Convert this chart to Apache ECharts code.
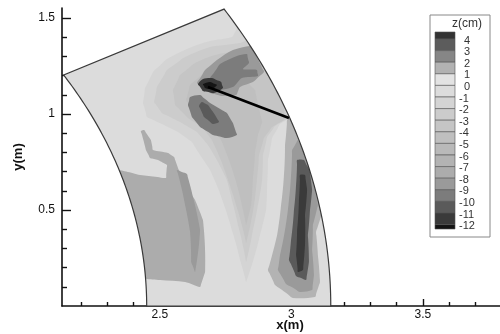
<!DOCTYPE html>
<html><head><meta charset="utf-8">
<script src="https://cdn.jsdelivr.net/npm/echarts@6/dist/echarts.min.js"></script>
<style>html,body{margin:0;padding:0;background:#fff}#c{width:500px;height:334px}</style>
</head><body><div id="c"></div>
<script>
// ---- axes ----
const xMajor = [2.5, 3, 3.5];
const xMinor = [2.2, 2.3, 2.4, 2.6, 2.7, 2.8, 2.9, 3.1, 3.2, 3.3, 3.4, 3.6, 3.7, 3.8];
const yMajor = [0.5, 1, 1.5];
const yMinor = [0.1, 0.2, 0.3, 0.4, 0.6, 0.7, 0.8, 0.9, 1.1, 1.2, 1.3, 1.4];
const xRange = [2.128, 3.862];
const yRange = [0, 1.552];

// ---- legend levels (cm) and band colours (band above 4 ... band below -12) ----
const levels = [4, 3, 2, 1, 0, -1, -2, -3, -4, -5, -6, -7, -8, -9, -10, -11, -12];
const bandColors = ['#333333', '#5c5c5c', '#868686', '#b2b2b2', '#e3e3e3', '#dcdcdc', '#d4d4d4', '#cccccc',
  '#c5c5c5', '#bfbfbf', '#b9b9b9', '#b3b3b3', '#acacac', '#9a9a9a', '#7c7c7c', '#5a5a5a', '#3a3a3a', '#141414'];

// ---- channel bend geometry (m, deg) ----
const channelInnerR = 2.45, channelOuterR = 3.15, channelAngle = 29.4;

// ---- spur dike ----
const dikeX = [2.683, 2.991];
const dikeY = [1.141, 0.979];

// ---- contour regions: z value (cm) and outline (x,y in m) ----
const plume1 = [[2.824,1.4635],[2.774,1.401],[2.691,1.380],[2.603,1.339],[2.527,1.286],[2.474,1.219],[2.444,1.135],[2.436,1.057],[2.451,0.984],[2.508,0.948],[2.569,0.906],[2.622,0.854],[2.653,0.786],[2.691,0.708],[2.721,0.615],[2.744,0.526],[2.774,0.396],[2.805,0.240],[2.828,0.125],[2.850,0.214],[2.881,0.370],[2.904,0.500],[2.908,0.630],[2.911,0.760],[2.927,0.875],[2.957,0.948],[3.003,0.984],[3.052,1.021],[3.033,1.177],[2.995,1.307],[2.919,1.4375]];
const plume2 = [[2.862,1.396],[2.805,1.370],[2.691,1.349],[2.596,1.297],[2.527,1.229],[2.489,1.141],[2.478,1.0625],[2.508,1.005],[2.577,0.958],[2.641,0.906],[2.683,0.839],[2.721,0.750],[2.755,0.656],[2.774,0.552],[2.797,0.422],[2.828,0.229],[2.854,0.396],[2.873,0.526],[2.889,0.656],[2.892,0.786],[2.908,0.880],[2.938,0.9375],[2.987,0.979],[3.052,1.047],[3.014,1.281],[2.938,1.385]];
const plume3 = [[2.889,1.375],[2.805,1.333],[2.710,1.307],[2.634,1.266],[2.577,1.203],[2.550,1.125],[2.558,1.047],[2.607,0.979],[2.664,0.927],[2.698,0.865],[2.729,0.771],[2.759,0.656],[2.790,0.526],[2.828,0.328],[2.858,0.526],[2.869,0.656],[2.877,0.786],[2.896,0.875],[2.927,0.932],[2.976,0.974],[3.033,1.073],[2.995,1.281]];
const plume4 = [[2.748,1.271],[2.672,1.219],[2.615,1.151],[2.600,1.073],[2.634,1.0],[2.691,0.9375],[2.733,0.865],[2.763,0.760],[2.790,0.646],[2.812,0.526],[2.828,0.422],[2.847,0.526],[2.854,0.667],[2.862,0.802],[2.873,0.891],[2.889,0.958],[2.873,1.047],[2.862,1.125],[2.824,1.177],[2.805,1.240]];
const innerBar = [[2.311,0.698],[2.425,0.682],[2.523,0.667],[2.527,0.734],[2.493,0.760],[2.463,0.771],[2.447,0.8125],[2.428,0.911],[2.440,0.917],[2.466,0.865],[2.474,0.8125],[2.531,0.797],[2.554,0.776],[2.569,0.719],[2.596,0.630],[2.634,0.552],[2.664,0.448],[2.672,0.292],[2.672,0.177],[2.653,0.099],[2.596,0.125],[2.501,0.135],[2.406,0.141]];
const innerStreak = [[2.565,0.708],[2.603,0.6875],[2.626,0.568],[2.653,0.396],[2.649,0.323],[2.634,0.177],[2.619,0.229],[2.615,0.385],[2.596,0.526],[2.577,0.646]];
const outer1 = [[2.984,0.969],[2.976,0.839],[2.972,0.682],[2.961,0.526],[2.946,0.370],[2.927,0.266],[2.911,0.1875],[2.938,0.109],[3.006,0.042],[3.090,0.047],[3.109,0.125],[3.101,0.266],[3.094,0.385],[3.117,0.474],[3.166,0.552],[3.139,0.760],[3.079,0.943],[3.025,0.990]];
const outer2 = [[3.003,0.8125],[2.999,0.682],[2.991,0.552],[2.976,0.396],[2.957,0.266],[2.949,0.1875],[2.980,0.115],[3.033,0.073],[3.079,0.083],[3.086,0.161],[3.079,0.292],[3.082,0.422],[3.101,0.526],[3.094,0.656],[3.052,0.8125],[3.025,0.865]];
const outer3 = [[3.022,0.760],[3.018,0.630],[3.010,0.500],[2.999,0.344],[2.991,0.240],[3.018,0.156],[3.056,0.135],[3.067,0.229],[3.063,0.370],[3.071,0.500],[3.079,0.604],[3.071,0.708],[3.048,0.760]];
const outer4 = [[3.033,0.682],[3.029,0.552],[3.022,0.396],[3.018,0.266],[3.025,0.177],[3.044,0.1875],[3.052,0.318],[3.052,0.474],[3.060,0.604],[3.052,0.682]];
const patchRing = [[2.641,1.161],[2.672,1.229],[2.717,1.281],[2.778,1.333],[2.854,1.359],[2.889,1.323],[2.896,1.219],[2.854,1.167],[2.805,1.141],[2.790,1.099],[2.736,1.094],[2.691,1.109]];
const patchCore = [[2.691,1.1875],[2.729,1.260],[2.793,1.302],[2.831,1.3125],[2.839,1.266],[2.816,1.234],[2.869,1.229],[2.873,1.198],[2.812,1.1875],[2.778,1.141],[2.717,1.125]];
const blobRing = [[2.607,1.047],[2.615,1.089],[2.653,1.099],[2.691,1.057],[2.755,1.005],[2.778,0.953],[2.793,0.891],[2.755,0.875],[2.702,0.891],[2.653,0.932],[2.622,0.984]];
const blobCore = [[2.649,1.042],[2.660,1.0625],[2.683,1.047],[2.710,0.995],[2.725,0.958],[2.702,0.948],[2.668,0.984]];
const tipRing = [[2.645,1.156],[2.664,1.182],[2.698,1.1875],[2.733,1.167],[2.740,1.135],[2.706,1.109],[2.664,1.120]];
const tipCore = [[2.664,1.156],[2.691,1.167],[2.717,1.151],[2.698,1.130],[2.672,1.135]];

const backgroundZ = -0.5;
const regionShapes = [plume1, plume2, plume3, plume4, innerBar, innerStreak, outer1, outer2, outer3, outer4,
  patchRing, patchCore, blobRing, blobCore, tipRing, tipCore];
const regionZ = [-1.5, -2.5, -3.5, -4.5, -7.5, -8.5, -6.5, -8.5, -10.5, -11.5,
  -8.5, -9.5, -9.5, -10.5, -11.5, -12.5];

// ---------------------------------------------------------------
function bandOf(v) {
  if (v > levels[0]) return 0;
  for (let k = 0; k < levels.length - 1; k++) {
    if (v <= levels[k] && v > levels[k + 1]) return k + 1;
  }
  return levels.length;
}
const tMax = channelAngle * Math.PI / 180;
const channelOutline = [[channelInnerR, 0], [channelOuterR, 0],
  [channelOuterR * Math.cos(tMax), channelOuterR * Math.sin(tMax)],
  [channelInnerR * Math.cos(tMax), channelInnerR * Math.sin(tMax)]];

function toPixels(pts, api) {
  const pol = pts.map(([x, y]) => {
    let r = Math.hypot(x, y), t = Math.atan2(y, x);
    r = Math.min(channelOuterR, Math.max(channelInnerR, r));
    t = Math.min(tMax, Math.max(0, t));
    return [r, t];
  });
  const out = [];
  const step = 0.4 * Math.PI / 180;
  for (let i = 0; i < pol.length; i++) {
    const a = pol[i], b = pol[(i + 1) % pol.length];
    const n = Math.max(1, Math.ceil(Math.abs(b[1] - a[1]) / step));
    for (let k = 0; k < n; k++) {
      const f = k / n;
      const r = a[0] + (b[0] - a[0]) * f, t = a[1] + (b[1] - a[1]) * f;
      out.push(api.coord([r * Math.cos(t), r * Math.sin(t)]));
    }
  }
  return out;
}

const items = [{ shape: channelOutline, z: backgroundZ, smooth: 0 }]
  .concat(regionShapes.map((s, i) => ({ shape: s, z: regionZ[i], smooth: 0.3 })));

const font = 'Liberation Sans, Arial, sans-serif';
const axisCol = '#111';

function xAxisCfg(major) {
  return {
    type: 'value', min: xRange[0], max: xRange[1], position: 'bottom', offset: 0,
    splitLine: { show: false },
    axisLine: { show: major, lineStyle: { color: axisCol, width: 1.6 } },
    axisTick: { show: true, inside: true, length: major ? 7 : 4, customValues: major ? xMajor : xMinor,
      lineStyle: { color: axisCol, width: 1.4 } },
    axisLabel: major ? { customValues: xMajor, color: axisCol, fontSize: 12, margin: 3, fontFamily: font } : { show: false },
    name: major ? 'x(m)' : '', nameLocation: 'middle', nameGap: 13, nameMoveOverlap: false,
    nameTextStyle: { fontWeight: 'bold', fontSize: 13, color: axisCol, fontFamily: font }
  };
}
function yAxisCfg(major) {
  return {
    type: 'value', min: yRange[0], max: yRange[1], position: 'left', offset: 0,
    splitLine: { show: false },
    axisLine: { show: major, lineStyle: { color: axisCol, width: 1.6 } },
    axisTick: { show: true, inside: true, length: major ? 9 : 5, customValues: major ? yMajor : yMinor,
      lineStyle: { color: axisCol, width: 1.4 } },
    axisLabel: major ? { customValues: yMajor, color: axisCol, fontSize: 12, margin: 7, fontFamily: font } : { show: false },
    name: major ? 'y(m)' : '', nameLocation: 'middle', nameGap: 37, nameMoveOverlap: false,
    nameTextStyle: { fontWeight: 'bold', fontSize: 13, color: axisCol, fontFamily: font }
  };
}

// legend graphic
const legendTop = 32, legendBottom = 229, bandStep = 11.6, firstEdge = 39;
const legendEls = [{ type: 'rect', shape: { x: 430, y: 15, width: 60, height: 222 },
  style: { fill: '#fff', stroke: '#888', lineWidth: 1 } },
  { type: 'text', x: 467, y: 24, style: { text: 'z(cm)', fill: '#333', font: '12px ' + font, textAlign: 'center', textVerticalAlign: 'middle' } }];
for (let b = 0; b <= levels.length; b++) {
  const y0 = b === 0 ? legendTop : firstEdge + (b - 1) * bandStep;
  const y1 = b === levels.length ? legendBottom : firstEdge + b * bandStep;
  legendEls.push({ type: 'rect', shape: { x: 435, y: y0, width: 20, height: y1 - y0 },
    style: { fill: bandColors[b], stroke: '#555', lineWidth: 0.6 } });
}
levels.forEach((v, k) => {
  legendEls.push({ type: 'text', x: v < 0 ? 459 : 464, y: firstEdge + 1.5 + k * bandStep,
    style: { text: String(v), fill: '#333', font: '11px ' + font, textAlign: 'left', textVerticalAlign: 'middle' } });
});

const chart = echarts.init(document.getElementById('c'), null, { renderer: 'canvas' });
chart.setOption({
  animation: false,
  backgroundColor: '#fff',
  grid: { left: 62, top: 8, width: 456, height: 298, containLabel: false, outerBoundsMode: 'none' },
  xAxis: [xAxisCfg(true), xAxisCfg(false)],
  yAxis: [yAxisCfg(true), yAxisCfg(false)],
  series: [
    {
      type: 'custom', coordinateSystem: 'cartesian2d', xAxisIndex: 0, yAxisIndex: 0, clip: false,
      data: items.map((it, i) => [i]),
      encode: { x: [], y: [] },
      renderItem: function (params, api) {
        const it = items[params.dataIndex];
        return { type: 'polygon', shape: { points: toPixels(it.shape, api), smooth: it.smooth },
          style: { fill: bandColors[bandOf(it.z)], stroke: null } };
      },
      z: 1
    },
    {
      type: 'custom', coordinateSystem: 'cartesian2d', clip: false,
      data: [[0]], encode: { x: [], y: [] },
      renderItem: function (params, api) {
        return { type: 'polygon', shape: { points: toPixels(channelOutline, api) },
          style: { fill: 'none', stroke: '#3a3a3a', lineWidth: 1.2 } };
      },
      z: 2
    },
    {
      type: 'line', data: dikeX.map((x, i) => [x, dikeY[i]]), symbol: 'none',
      lineStyle: { color: '#000', width: 2.6 }, z: 3
    }
  ],
  graphic: legendEls
});
</script></body></html>
